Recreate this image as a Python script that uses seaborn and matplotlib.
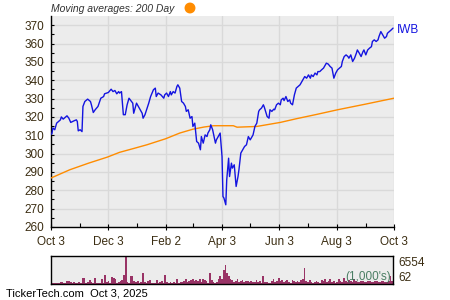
import numpy as np
import pandas as pd
import matplotlib
matplotlib.use("Agg")
import matplotlib.pyplot as plt
import seaborn as sns

# ---------------- data ----------------
start_date = "2024-10-03"
price_days = [0, 1, 2, 4, 6, 10, 11, 13, 17, 19, 21, 25, 27, 28, 29, 31, 33, 34, 36, 39,
              42, 43, 45, 47, 50, 53, 56, 57, 61, 64, 66, 68, 70, 72, 73, 75, 77, 79, 81, 83,
              87, 88, 91, 93, 95, 97, 98, 100, 104, 106, 109, 111, 112, 114, 117, 120, 121, 123, 125, 127,
              128, 130, 132, 134, 135, 137, 139, 141, 143, 144, 146, 148, 150, 151, 153, 155, 157, 159, 160, 162,
              164, 166, 167, 169, 170, 172, 175, 176, 178, 180, 182, 183, 184, 186, 187, 189, 190, 192, 193, 195,
              197, 199, 200, 202, 204, 206, 208, 210, 212, 214, 215, 217, 219, 221, 222, 224, 226, 227, 229, 230,
              232, 233, 235, 237, 238, 240, 242, 244, 245, 247, 248, 250, 252, 254, 255, 257, 259, 260, 261, 263,
              265, 267, 268, 270, 272, 274, 276, 277, 279, 281, 283, 284, 286, 288, 290, 292, 293, 295, 297, 299,
              300, 301, 303, 305, 307, 309, 310, 312, 314, 316, 317, 319, 321, 323, 325, 326, 328, 330, 332, 333,
              335, 337, 339, 341, 342, 344, 346, 348, 349, 351, 353, 355, 357, 358, 360, 362, 364]
price = [310.5, 311.0, 314.0, 313.0, 316.6, 318.4, 320.0, 318.8, 320.6, 319.3, 317.0, 318.0, 318.4, 317.5, 312.4, 313.0, 312.0, 325.7, 328.4, 329.7,
         328.4, 326.6, 322.4, 323.9, 325.7, 330.2, 331.1, 332.6, 333.3, 335.1, 333.8, 334.4, 332.6, 333.8, 333.0, 333.8, 321.2, 321.2, 326.6, 330.2,
         327.5, 322.0, 327.5, 325.7, 323.9, 322.0, 319.3, 321.2, 327.5, 331.1, 334.8, 335.7, 331.1, 333.0, 332.0, 330.2, 332.0, 333.0, 331.1, 333.8,
         332.0, 333.8, 333.0, 336.6, 337.5, 335.7, 328.4, 327.5, 325.7, 323.0, 323.9, 319.3, 320.2, 314.8, 316.6, 306.6, 305.7, 302.1, 309.3, 305.7,
         310.2, 309.3, 311.2, 313.0, 315.7, 313.0, 305.7, 307.5, 309.3, 311.2, 298.4, 276.6, 275.8, 272.1, 285.7, 297.5, 287.5, 294.8, 292.1, 293.9,
         282.1, 287.5, 291.2, 300.3, 302.1, 303.9, 304.8, 309.3, 307.5, 309.3, 310.2, 314.8, 316.6, 323.0, 323.9, 324.8, 326.6, 325.3, 322.0, 320.2,
         319.3, 323.9, 323.0, 324.2, 323.9, 326.6, 327.5, 326.6, 329.3, 330.2, 328.9, 331.1, 328.4, 329.3, 327.5, 326.6, 332.0, 333.8, 335.7, 336.6,
         337.5, 339.3, 340.2, 342.0, 341.1, 342.9, 341.1, 342.9, 342.0, 343.9, 342.9, 344.7, 344.7, 345.7, 346.6, 348.4, 349.3, 348.8, 347.5, 346.6,
         343.9, 341.1, 343.9, 345.7, 346.6, 347.5, 350.2, 352.9, 353.8, 352.9, 352.0, 353.8, 350.2, 352.0, 354.8, 356.5, 354.8, 352.9, 355.6, 356.5,
         353.8, 356.5, 357.5, 358.3, 361.1, 362.0, 361.1, 362.0, 363.8, 366.5, 364.7, 362.9, 363.8, 365.6, 366.5, 367.4, 368.4]

ma_days = [0, 20, 40, 60, 73, 88, 102, 122, 137, 151, 163, 173, 194, 198, 219, 244, 261, 283, 305, 335, 365]
ma200 = [286.7, 291.2, 294.8, 298.1, 300.7, 302.8, 304.8, 308.1, 311.2, 313.3, 314.5, 315.2, 315.2, 314.4, 314.8, 317.0, 319.0, 321.4, 323.9, 327.0, 330.2]

volume = [300, 150, 150, 300, 300, 450, 450, 300, 300, 770, 770, 550, 300, 550, 250, 250, 550, 300,
          1500, 1500, 300, 550, 950, 550, 300, 1500, 300, 300, 300, 1250, 300, 2250, 550, 700, 300,
          1700, 1500, 1100, 300, 550, 700, 950, 2250, 6554, 550, 300, 2000, 2000, 700, 550, 700, 300,
          550, 2650, 550, 300, 700, 950, 300, 300, 300, 950, 300, 550, 700, 300, 2250, 550, 300, 550,
          300, 550, 300, 1250, 300, 550, 550, 700, 1250, 550, 700, 950, 1250, 700, 950, 700, 1250, 550,
          1250, 950, 700, 300, 2650, 950, 550, 300, 450, 1250, 1850, 1100, 3400, 4550, 2650,
          2000, 1250, 950, 550, 700, 1100, 550, 700, 950, 550, 700, 700, 550, 700, 550, 550, 950, 550,
          700, 300, 2000, 450, 550, 300, 300, 700, 1100, 550, 700, 1500, 700, 950, 550, 700, 950, 550,
          300, 950, 700, 550, 700, 550, 850, 1100, 3900, 700, 550, 950, 550, 300, 550, 700, 550, 300,
          950, 700, 1250, 550, 700, 1250, 550, 700, 300, 550, 1100, 700, 550, 1500, 700, 550, 950, 700,
          550, 1250, 700, 550, 550, 700, 700, 550, 550, 700, 700, 550, 550, 700, 700, 550, 550, 700, 700,
          550, 550, 700, 1850, 700]
vol_labels = [62, 6554]

tick_days = [0, 61, 122, 182, 243, 304, 365]
tick_labels = ["Oct 3", "Dec 3", "Feb 2", "Apr 3", "Jun 3", "Aug 3", "Oct 3"]
minor_days = [31, 92, 151, 212, 273, 335]
y_ticks = list(range(260, 371, 10))

# ---------------- style ----------------
sns.set_style("white")
plt.rcParams["font.family"] = ["Liberation Sans", "DejaVu Sans"]
txt_col = "#3b2d12"
bg = "#ececec"
grid_col = "#d9d9d9"

fig = plt.figure(figsize=(4.5, 3.0), dpi=100)
ax = fig.add_axes([51 / 450, 1 - 227 / 300, 343 / 450, 211 / 300])
axv = fig.add_axes([51 / 450, 1 - 284 / 300, 342 / 450, 28 / 300])

dfp = pd.DataFrame({"day": price_days, "price": price})
dfm = pd.DataFrame({"day": ma_days, "ma": ma200})

ax.set_facecolor(bg)
for d in tick_days:
    ax.axvline(d, color=grid_col, lw=1, zorder=0)
for v in y_ticks:
    ax.axhline(v, color=grid_col, lw=1, zorder=0)

sns.lineplot(data=dfm, x="day", y="ma", ax=ax, color="#ff8c00", lw=1.0, zorder=3)
sns.lineplot(data=dfp, x="day", y="price", ax=ax, color="#1414e0", lw=1.0, zorder=4)

ax.set_xlim(0, 365)
ax.set_ylim(260, 375)
ax.set_xlabel("")
ax.set_ylabel("")
ax.set_yticks(y_ticks)
ax.set_yticks(list(range(265, 375, 10)), minor=True)
ax.set_yticklabels([str(v) for v in y_ticks])
ax.set_xticks(tick_days)
ax.set_xticklabels(tick_labels)
ax.set_xticks(minor_days, minor=True)
for s in ["top", "right"]:
    ax.spines[s].set_visible(False)
for s in ["left", "bottom"]:
    ax.spines[s].set_color("black")
    ax.spines[s].set_linewidth(1.0)
ax.tick_params(axis="y", which="both", direction="in", length=2.5, width=0.8, color="black",
               labelsize=8.5, labelcolor=txt_col, pad=5, left=True)
ax.tick_params(axis="x", which="major", direction="inout", length=5, width=0.8, color="black",
               labelsize=8.5, labelcolor=txt_col, pad=4, bottom=True)
ax.tick_params(axis="x", which="minor", direction="in", length=3, width=0.8, color="black", bottom=True)

ax.text(1.008, 0.935, "IWB", transform=ax.transAxes, color="#1414e0", fontsize=8.5,
        ha="left", va="center")

# title
fig.text(51 / 450, 1 - 8.5 / 300, "Moving averages: 200 Day", fontsize=7.5, style="italic",
         color="#333333", ha="left", va="center")
fig.patches.append(matplotlib.patches.Ellipse((190 / 450, 1 - 8 / 300), 9.5 / 450, 9.5 / 300,
                                              transform=fig.transFigure, color="#ff8c00"))

# volume
n = len(volume)
w = 365 / n
xpos = np.arange(n) * w + w / 2
axv.set_facecolor(bg)
axv.bar(xpos, volume, width=w, color="#993366", linewidth=0)
axv.set_xlim(0, 365)
axv.set_ylim(0, 6700)
axv.set_xticks([])
axv.set_yticks(vol_labels)
axv.set_yticklabels([str(v) for v in vol_labels])
axv.yaxis.tick_right()
axv.tick_params(axis="y", length=0, labelsize=8.5, labelcolor=txt_col, pad=4)
labs = axv.get_yticklabels()
labs[0].set_va("bottom")
labs[1].set_va("top")
for s in axv.spines.values():
    s.set_color("black")
    s.set_linewidth(1.0)
axv.text(0.995, 0.04, "(1,000's)", transform=axv.transAxes, ha="right", va="bottom",
         fontsize=8.5, color="#2e6b4c", alpha=0.85)

fig.text(6 / 450, 1 - 294 / 300, "TickerTech.com  Oct 3, 2025", fontsize=8,
         color="black", ha="left", va="center")

fig.savefig("out.png", dpi=100)
